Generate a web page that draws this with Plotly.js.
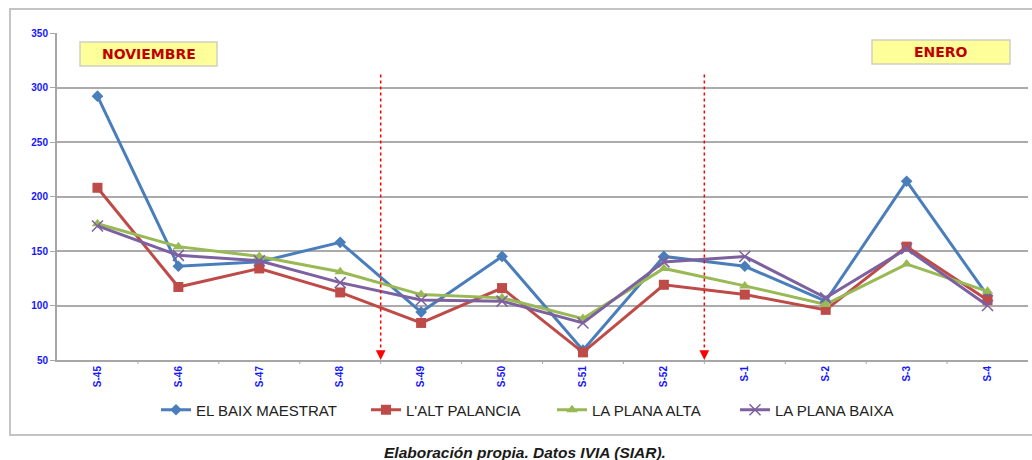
<!DOCTYPE html>
<html>
<head>
<meta charset="utf-8">
<script src="https://cdn.plot.ly/plotly-3.0.1.min.js"></script>
<style>
html,body{margin:0;padding:0;background:#fff;}
#chart{width:1032px;height:460px;}
</style>
</head>
<body>
<div id="chart"></div>
<script>
const weeks = ["S-45","S-46","S-47","S-48","S-49","S-50","S-51","S-52","S-1","S-2","S-3","S-4"];
const baixMaestrat = [292,136,140,158,94,145,59,145,136,104,214,109];
const altPalancia  = [208,117,134,112,84,116,57,119,110,96,154,105];
const planaAlta    = [175,154,145,131,110,107,88,134,118,101,138,113];
const planaBaixa   = [173,146,141,121,105,104,84,140,145,107,152,100];
const seriesNames  = ["EL BAIX MAESTRAT","L'ALT PALANCIA","LA PLANA ALTA","LA PLANA BAIXA"];
const monthLabels  = ["NOVIEMBRE","ENERO"];
const caption = "Elaboración propia. Datos IVIA (SIAR).";

const idx = weeks.map((_, i) => i);
const font = "'Liberation Sans', Arial, sans-serif";

function tr(y, name, color, symbol, size, legendId, lineColor) {
  return {
    x: idx, y: y, name: name, type: 'scatter', mode: 'lines+markers', legend: legendId,
    line: {color: color, width: 3},
    marker: {symbol: symbol, size: size, color: color, line: {color: lineColor || color, width: symbol.indexOf('x') === 0 ? 1.5 : 0}}
  };
}

const data = [
  tr(baixMaestrat, seriesNames[0], '#4A7EBB', 'diamond', 9, 'legend'),
  tr(altPalancia, seriesNames[1], '#BE4B48', 'square', 10, 'legend2'),
  tr(planaAlta, seriesNames[2], '#98B954', 'triangle-up', 10, 'legend3'),
  tr(planaBaixa, seriesNames[3], '#7D60A0', 'x-thin-open', 11, 'legend4', '#9A85BA')
];

const l = 57, t = 33, r = 4, b = 100;
const pw = 1032 - l - r, ph = 460 - t - b;
const px = X => (X - l) / pw;
const py = Y => (460 - b - Y) / ph;

function leg(xPix) {
  return {
    orientation: 'h', x: px(xPix), xanchor: 'left', y: py(410), yanchor: 'middle',
    font: {family: font, size: 15, color: '#222'}, bgcolor: 'rgba(0,0,0,0)', borderwidth: 0
  };
}

const layout = {
  width: 1032, height: 460,
  margin: {l: l, r: r, t: t, b: b},
  paper_bgcolor: '#ffffff', plot_bgcolor: '#ffffff',
  showlegend: true,
  legend: leg(156), legend2: leg(366), legend3: leg(552), legend4: leg(735),
  xaxis: {
    type: 'linear', range: [-0.5, 11.5],
    tickmode: 'array', tickvals: idx, ticktext: weeks,
    tickangle: -90, ticks: '', showgrid: false, zeroline: false,
    showline: true, linecolor: '#a6a6a6', linewidth: 2,
    tickfont: {family: font, size: 10, color: '#1515ff', weight: 'bold'},
    fixedrange: true
  },
  yaxis: {
    range: [50, 350], tickmode: 'linear', tick0: 50, dtick: 50,
    ticks: 'outside', ticklen: 5, tickcolor: '#a6a6a6', tickwidth: 1,
    showgrid: true, gridcolor: '#ababab', gridwidth: 2, zeroline: false,
    showline: true, linecolor: '#a6a6a6', linewidth: 2,
    tickfont: {family: font, size: 10, color: '#1515ff', weight: 'bold'},
    fixedrange: true
  },
  shapes: [
    {type: 'rect', xref: 'paper', yref: 'paper', x0: px(10), x1: px(1040), y0: py(435), y1: py(9),
     line: {color: '#c4c4c4', width: 2}, fillcolor: 'rgba(0,0,0,0)', layer: 'below'},
    ...[0.5,1.5,2.5,3.5,4.5,5.5,6.5,7.5,8.5,9.5,10.5].map(v => ({
      type: 'line', xref: 'x', yref: 'paper', x0: v, x1: v, y0: 0, y1: -4/ph,
      line: {color: '#a6a6a6', width: 1}
    })),
    {type: 'line', xref: 'x', yref: 'y', x0: 3.5, x1: 3.5, y0: 56, y1: 313, line: {color: '#ff0000', width: 1.5, dash: 'dot'}},
    {type: 'line', xref: 'x', yref: 'y', x0: 7.5, x1: 7.5, y0: 56, y1: 313, line: {color: '#ff0000', width: 1.5, dash: 'dot'}},
    {type: 'rect', xref: 'paper', yref: 'paper', x0: px(80), x1: px(217), y0: py(66), y1: py(42),
     fillcolor: '#ffff99', line: {color: '#d0d0c0', width: 1.5}},
    {type: 'rect', xref: 'paper', yref: 'paper', x0: px(872), x1: px(1010), y0: py(64), y1: py(40),
     fillcolor: '#ffff99', line: {color: '#d0d0c0', width: 1.5}}
  ],
  annotations: [
    {x: 3.5, y: 50, xref: 'x', yref: 'y', showarrow: true, arrowhead: 2, arrowsize: 1.3, arrowwidth: 1.5,
     arrowcolor: '#ff0000', ax: 0, ay: -10, text: '', standoff: 0},
    {x: 7.5, y: 50, xref: 'x', yref: 'y', showarrow: true, arrowhead: 2, arrowsize: 1.3, arrowwidth: 1.5,
     arrowcolor: '#ff0000', ax: 0, ay: -10, text: '', standoff: 0},
    {xref: 'paper', yref: 'paper', x: px(148.5), y: py(54), xanchor: 'center', yanchor: 'middle',
     text: monthLabels[0], showarrow: false,
     font: {family: "'DejaVu Sans', Arial, sans-serif", size: 14, color: '#c00000', weight: 'bold'}},
    {xref: 'paper', yref: 'paper', x: px(941), y: py(52), xanchor: 'center', yanchor: 'middle',
     text: monthLabels[1], showarrow: false,
     font: {family: "'DejaVu Sans', Arial, sans-serif", size: 14, color: '#c00000', weight: 'bold'}},
    {xref: 'paper', yref: 'paper', x: px(525), y: py(452), xanchor: 'center', yanchor: 'middle',
     text: '<b><i>' + caption + '</i></b>', showarrow: false,
     font: {family: font, size: 15.5, color: '#1a1a1a'}}
  ]
};

Plotly.newPlot('chart', data, layout, {displayModeBar: false, staticPlot: true});
</script>
</body>
</html>
